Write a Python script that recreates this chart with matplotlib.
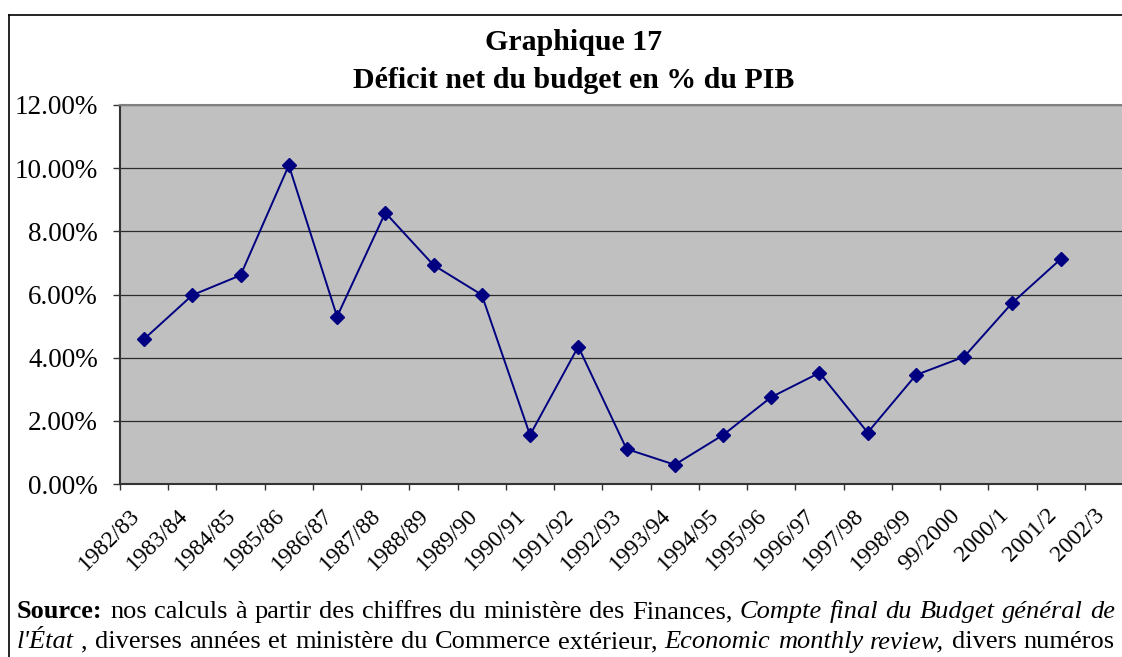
import matplotlib
matplotlib.use("Agg")
import matplotlib.pyplot as plt
from matplotlib.lines import Line2D
from matplotlib.ticker import FuncFormatter

# Data
years = ["1982/83", "1983/84", "1984/85", "1985/86", "1986/87", "1987/88", "1988/89",
         "1989/90", "1990/91", "1991/92", "1992/93", "1993/94", "1994/95", "1995/96",
         "1996/97", "1997/98", "1998/99", "99/2000", "2000/1", "2001/2", "2002/3"]
deficit = [4.59, 5.98, 6.61, 10.09, 5.30, 8.59, 6.93, 5.99, 1.55, 4.35,
           1.11, 0.61, 1.55, 2.75, 3.52, 1.63, 3.45, 4.03, 5.74, 7.12]
yticks = [0, 2, 4, 6, 8, 10, 12]

title1 = "Graphique 17"
title2 = "Déficit net du budget en % du PIB"
source_lines = [
    [("Source:", "bold"),
     ("nos calculs à partir des chiffres du ministère des Finances,", "normal"),
     ("Compte final du Budget général de", "italic")],
    [("l'État", "italic"),
     (", diverses années et ministère du Commerce extérieur,", "normal"),
     ("Economic monthly review,", "italic"),
     ("divers numéros", "normal")],
]

W, H = 1122, 657
SERIF = "Liberation Serif"
plt.rcParams["font.family"] = [SERIF, "DejaVu Serif"]

fig = plt.figure(figsize=(W / 100, H / 100), dpi=100)
fig.patch.set_facecolor("white")

# plot area (runs past the right edge, like the cropped original)
left, right, top, bottom = 120, 1133, 105, 484
ax = fig.add_axes([left / W, 1 - bottom / H, (right - left) / W, (bottom - top) / H])
ax.set_facecolor("#C0C0C0")

xs = [i + 0.5 for i in range(len(deficit))]
ax.plot(xs, deficit, color="#000080", lw=1.4, marker="D", ms=7,
        markerfacecolor="#000080", markeredgecolor="#000080", zorder=3)

ax.set_xlim(0, len(years))
ax.set_ylim(0, 12)

ax.set_yticks(yticks)
ax.yaxis.set_major_formatter(FuncFormatter(lambda v, p: "%.2f%%" % v))
ax.tick_params(axis="y", direction="out", length=5, width=1, color="#333333",
               labelsize=19.5, pad=11)
ax.grid(axis="y", color="#2a2a2a", lw=0.9)
ax.set_axisbelow(True)

# ticks between categories, labels at category centres
ax.set_xticks(range(len(years)))
ax.set_xticklabels([])
ax.set_xticks([i + 0.5 for i in range(len(years))], minor=True)
ax.set_xticklabels(years, minor=True, rotation=45, ha="right", fontsize=17)
ax.tick_params(axis="x", which="major", direction="out", length=4.5, width=1, color="#333333")
ax.tick_params(axis="x", which="minor", length=0, pad=15)

for s in ["left", "bottom"]:
    ax.spines[s].set_color("#333333")
    ax.spines[s].set_linewidth(1.5)
ax.spines["top"].set_color("#808080")
ax.spines["top"].set_linewidth(1.5)
ax.spines["right"].set_visible(False)

# outer chart frame (top and left only are visible)
fig.add_artist(Line2D([9 / W, 1], [1 - 15 / H, 1 - 15 / H], color="black", lw=1.2))
fig.add_artist(Line2D([9 / W, 9 / W], [0, 1 - 15 / H], color="black", lw=1.2))

# titles
fig.text(574 / W, 1 - 43 / H, title1, ha="center", va="center", fontsize=21.5, fontweight="bold")
fig.text(574 / W, 1 - 80 / H, title2, ha="center", va="center", fontsize=21.5, fontweight="bold")

# source note, justified between two margins
renderer = fig.canvas.get_renderer()


def make_words(line):
    words = []
    for text, style in line:
        for w in text.split():
            words.append((w, style))
    return words


def place_words(words, y, size, x0, x1, justify=True):
    items = []
    total = 0
    for w, style in words:
        t = fig.text(0, 1 - y / H, w, fontsize=size, va="baseline",
                     fontweight="bold" if style == "bold" else "normal",
                     fontstyle="italic" if style == "italic" else "normal")
        wd = t.get_window_extent(renderer).width
        items.append((t, wd))
        total += wd
    gap = 0.25 * size * 100 / 72
    if justify and len(items) > 1:
        gap = (x1 - x0 - total) / (len(items) - 1)
    x = x0
    for t, wd in items:
        t.set_x(x / W)
        x += wd + gap


size = 19
place_words(make_words(source_lines[0]), 618, size, 17, 1115)
place_words(make_words(source_lines[1]), 648, size, 17, 1115)

fig.savefig("out.png", dpi=100)
